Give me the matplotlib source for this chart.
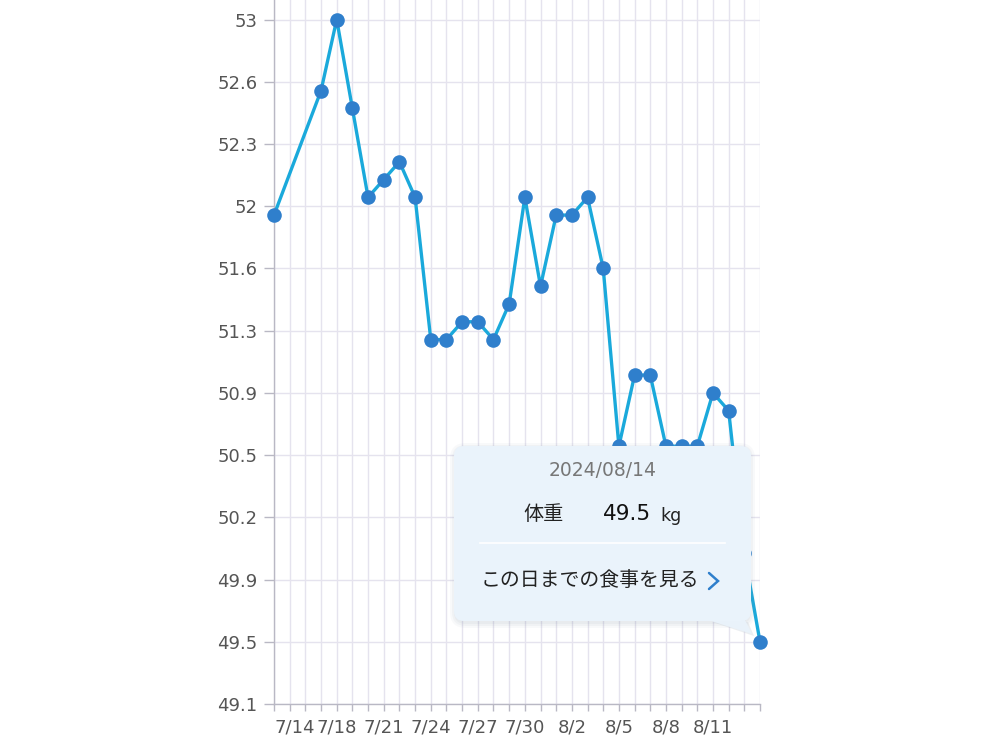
import matplotlib
matplotlib.use("Agg")
import matplotlib.pyplot as plt
import matplotlib.dates as mdates
import matplotlib.transforms as mtransforms
from matplotlib.patches import FancyBboxPatch, Polygon
import pandas as pd
import numpy as np

plt.rcParams['font.family'] = ['Noto Sans CJK JP', 'DejaVu Sans']

# ---- data ----
dates = ["2024-07-14", "2024-07-17", "2024-07-18", "2024-07-19", "2024-07-20",
         "2024-07-21", "2024-07-22", "2024-07-23", "2024-07-24", "2024-07-25",
         "2024-07-26", "2024-07-27", "2024-07-28", "2024-07-29", "2024-07-30",
         "2024-07-31", "2024-08-01", "2024-08-02", "2024-08-03", "2024-08-04",
         "2024-08-05", "2024-08-06", "2024-08-07", "2024-08-08", "2024-08-09",
         "2024-08-10", "2024-08-11", "2024-08-12", "2024-08-13", "2024-08-14"]
weights = [51.9, 52.6, 53.0, 52.5, 52.0,
           52.1, 52.2, 52.0, 51.2, 51.2,
           51.3, 51.3, 51.2, 51.4, 52.0,
           51.5, 51.9, 51.9, 52.0, 51.6,
           50.6, 51.0, 51.0, 50.6, 50.6,
           50.6, 50.9, 50.8, 50.0, 49.5]
x_label_dates = ["2024-07-14", "2024-07-18", "2024-07-21", "2024-07-24", "2024-07-27",
                 "2024-07-30", "2024-08-02", "2024-08-05", "2024-08-08", "2024-08-11"]
y_ticks = [53.0, 52.65, 52.3, 51.95, 51.6, 51.25, 50.9, 50.55, 50.2, 49.85, 49.5, 49.15]
y_tick_labels = ["53", "52.6", "52.3", "52", "51.6", "51.3", "50.9", "50.5",
                 "50.2", "49.9", "49.5", "49.1"]
y_top = 53.11
tooltip_date = "2024/08/14"
tooltip_label = "体重"
tooltip_value = "49.5"
tooltip_unit = "kg"
tooltip_link = "この日までの食事を見る"

# ---- figure ----
W, H = 1000, 750
fig = plt.figure(figsize=(W / 100, H / 100), dpi=100)
fig.patch.set_facecolor("white")

L, R, T, B = 274, 760, 0, 704
ax = fig.add_axes([L / W, 1 - B / H, (R - L) / W, (B - T) / H])
ax.set_facecolor("white")

x = pd.to_datetime(dates)
ax.plot(x, weights, color="#1aa9db", lw=2.4, zorder=3, clip_on=False)
ax.plot(x, weights, ls="none", marker="o", ms=10.5, color="#2f7fcc",
        markeredgewidth=0, zorder=4, clip_on=False)

ax.set_xlim(pd.Timestamp(dates[0]), pd.Timestamp(dates[-1]))
ax.set_ylim(min(y_ticks), y_top)

grid_c = "#e5e3ee"
axis_c = "#b9b8c4"
ax.xaxis.set_major_locator(mdates.DayLocator())
ax.xaxis.set_major_formatter(plt.NullFormatter())
ax.set_yticks(y_ticks)
ax.set_yticklabels(y_tick_labels)
ax.grid(True, axis="both", color=grid_c, lw=1.0, zorder=0)
ax.set_axisbelow(True)

for s in ["top", "right"]:
    ax.spines[s].set_visible(False)
for s in ["left", "bottom"]:
    ax.spines[s].set_color(axis_c)
    ax.spines[s].set_linewidth(1.0)

tick_font = ["DejaVu Sans"]
ax.tick_params(axis="y", length=7, width=1, color=axis_c, labelsize=13,
               labelcolor="#555555", pad=5)
ax.tick_params(axis="x", length=5, width=1, color=axis_c)
for lbl in ax.get_yticklabels():
    lbl.set_family(tick_font)

# x tick labels
for i, d in enumerate(x_label_dates):
    ts = pd.Timestamp(d)
    txt = f"{ts.month}/{ts.day}"
    ax.text(mdates.date2num(ts), -0.033, txt, transform=ax.get_xaxis_transform(),
            ha="left" if i == 0 else "center", va="center", fontsize=13,
            color="#555555", family=tick_font)

# ---- tooltip ----
ident = mtransforms.IdentityTransform()


def px(xp, yp):
    return xp, H - yp


tx0, ty0, tx1, ty1 = 454, 446, 751, 621
# shadow
for k, a in [(6, 0.05), (4, 0.06), (2, 0.07)]:
    sh = FancyBboxPatch(px(tx0 - k + 2, ty1 + k + 1), (tx1 - tx0) + 2 * k - 4, (ty1 - ty0) + 2 * k - 2,
                        boxstyle=f"round,pad=0,rounding_size={10 + k}",
                        transform=ident, facecolor="#8090a0", edgecolor="none",
                        alpha=a, zorder=5)
    fig.add_artist(sh)
tail = Polygon([px(708, ty1 - 1), px(745, ty1 - 1), px(752, 634)], closed=True,
               transform=ident, facecolor="#e9f2fa", edgecolor="none", zorder=6)
fig.add_artist(tail)
tail_sh = Polygon([px(712, ty1 + 1), px(748, ty1 + 1), px(754, 636)], closed=True,
                  transform=ident, facecolor="#c8d0d8", edgecolor="none", alpha=0.35, zorder=5.5)
fig.add_artist(tail_sh)
box = FancyBboxPatch(px(tx0, ty1), tx1 - tx0, ty1 - ty0,
                     boxstyle="round,pad=0,rounding_size=10",
                     transform=ident, facecolor="#eaf3fb", edgecolor="none", zorder=6)
fig.add_artist(box)

fig.add_artist(plt.Line2D([480 / W, 725 / W], [1 - 543 / H, 1 - 543 / H],
                          color="white", lw=1.2, zorder=7))

# chevron
fig.add_artist(plt.Line2D([709 / W, 718 / W, 709 / W],
                          [1 - 573 / H, 1 - 581 / H, 1 - 589 / H],
                          color="#2f7fcc", lw=1.8, zorder=8,
                          solid_capstyle="round", solid_joinstyle="miter"))


def ft(xp, yp, s, **kw):
    fig.text(xp / W, 1 - yp / H, s, zorder=8, **kw)


ft(603, 470, tooltip_date, ha="center", va="center", fontsize=13.5, color="#777777",
   family=tick_font)
ft(544, 515, tooltip_label, ha="center", va="center", fontsize=14.5, color="#222222")
ft(627, 514, tooltip_value, ha="center", va="center", fontsize=15.5, color="#111111",
   family=tick_font)
ft(671, 516, tooltip_unit, ha="center", va="center", fontsize=12.5, color="#222222",
   family=tick_font)
ft(590, 580, tooltip_link, ha="center", va="center", fontsize=14.3, color="#222222")

fig.savefig("out.png", dpi=100, facecolor="white")
